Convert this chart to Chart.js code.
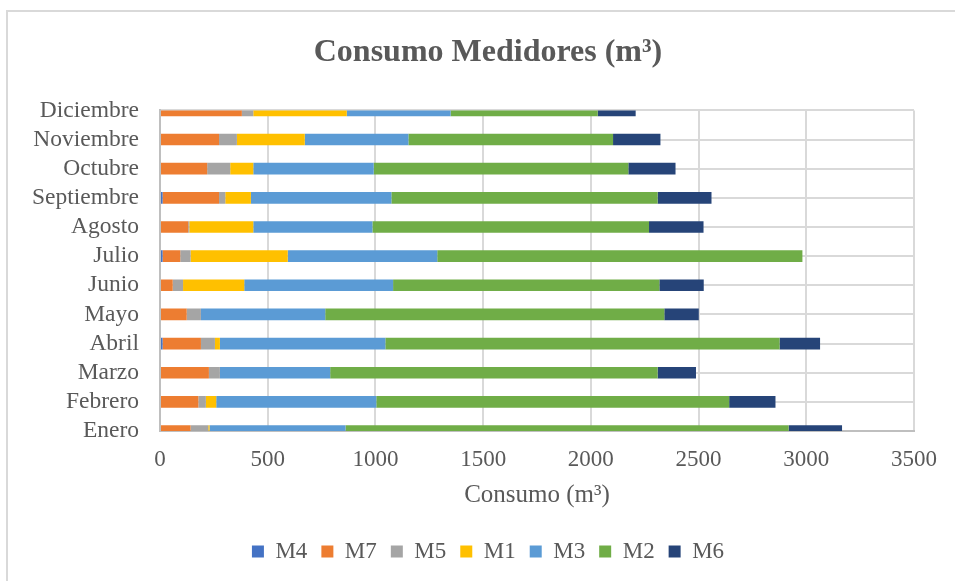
<!DOCTYPE html>
<html>
<head>
<meta charset="utf-8">
<script src="https://cdn.jsdelivr.net/npm/chart.js@4.4.1/dist/chart.umd.min.js"></script>
<style>
  html, body { margin: 0; padding: 0; background: #ffffff; }
  #wrap { width: 955px; height: 581px; position: relative; }
</style>
</head>
<body>
<div id="wrap"><canvas id="grafico" width="955" height="581"></canvas></div>
<script>
// Meses (de abajo hacia arriba en el eje vertical)
const meses = ['Enero', 'Febrero', 'Marzo', 'Abril', 'Mayo', 'Junio',
               'Julio', 'Agosto', 'Septiembre', 'Octubre', 'Noviembre', 'Diciembre'];

// Consumo mensual por medidor (m³)
const M4 = [0, 0, 0, 12, 0, 0, 12, 0, 12, 0, 0, 0];
const M7 = [142, 178, 227, 178, 124, 59, 82, 131, 262, 219, 274, 380];
const M5 = [82, 35, 51, 65, 66, 48, 48, 5, 29, 107, 83, 53];
const M1 = [6, 48, 0, 23, 0, 284, 451, 297, 119, 107, 315, 434];
const M3 = [631, 743, 512, 768, 577, 691, 694, 553, 652, 559, 481, 482];
const M2 = [2057, 1638, 1520, 1830, 1574, 1236, 1695, 1284, 1236, 1182, 950, 683];
const M6 = [248, 215, 178, 188, 160, 206, 0, 253, 250, 219, 220, 176];

// Marcas del eje de consumo
const ticksConsumo = [0, 500, 1000, 1500, 2000, 2500, 3000, 3500];

const series = [
  { label: 'M4', data: M4, color: '#4472C4' },
  { label: 'M7', data: M7, color: '#ED7D31' },
  { label: 'M5', data: M5, color: '#A5A5A5' },
  { label: 'M1', data: M1, color: '#FFC000' },
  { label: 'M3', data: M3, color: '#5B9BD5' },
  { label: 'M2', data: M2, color: '#70AD47' },
  { label: 'M6', data: M6, color: '#264478' }
];

const serif = "'Liberation Serif', 'Times New Roman', serif";
const gris = '#595959';
const rejilla = '#d9d9d9';

// Fondo blanco, marco exterior y zona libre para los nombres de los meses
const marco = {
  id: 'marco',
  afterLayout(chart) {
    // los nombres largos de los meses pueden ocupar el margen izquierdo
    chart.scales.y.left = 0;
  },
  beforeDraw(chart) {
    const ctx = chart.ctx;
    ctx.save();
    ctx.fillStyle = '#ffffff';
    ctx.fillRect(0, 0, chart.width, chart.height);
    ctx.strokeStyle = rejilla;
    ctx.lineWidth = 2;
    ctx.beginPath();
    ctx.moveTo(7, chart.height + 5);
    ctx.lineTo(7, 11);
    ctx.lineTo(chart.width + 5, 11);
    ctx.stroke();
    ctx.restore();
  }
};

new Chart(document.getElementById('grafico'), {
  type: 'bar',
  data: {
    labels: meses,
    datasets: series.map(s => ({
      label: s.label,
      data: s.data,
      backgroundColor: s.color,
      borderWidth: 0,
      categoryPercentage: 0.4,
      barPercentage: 1.0,
      clip: 0
    }))
  },
  options: {
    indexAxis: 'y',
    responsive: false,
    animation: false,
    devicePixelRatio: 1,
    layout: { padding: { top: 0, left: 62, right: 41, bottom: 8 } },
    plugins: {
      title: {
        display: true,
        text: 'Consumo Medidores (m³)',
        color: gris,
        font: { family: serif, size: 32, weight: 'bold' },
        padding: { top: 34, bottom: 38 }
      },
      legend: {
        position: 'bottom',
        labels: {
          color: gris,
          font: { family: serif, size: 23 },
          boxWidth: 12,
          boxHeight: 12,
          padding: 14
        }
      },
      tooltip: { enabled: false }
    },
    scales: {
      x: {
        stacked: true,
        min: 0,
        max: 3500,
        afterBuildTicks(scale) {
          scale.ticks = ticksConsumo.map(v => ({ value: v }));
        },
        afterFit(scale) { scale.height = 95; },
        grid: { color: rejilla, lineWidth: 2, drawTicks: false },
        border: { color: '#bfbfbf', width: 2 },
        ticks: {
          color: gris,
          font: { family: serif, size: 23 },
          padding: 15,
          callback: v => String(v)
        },
        title: {
          display: true,
          text: 'Consumo (m³)',
          color: gris,
          font: { family: serif, size: 25 },
          padding: { top: 0, bottom: 16 }
        }
      },
      y: {
        stacked: true,
        reverse: true,
        offset: false,
        afterFit(scale) { scale.width = 98; },
        grid: { color: rejilla, lineWidth: 2, drawTicks: false, offset: false },
        border: { color: '#bfbfbf', width: 2 },
        ticks: {
          color: gris,
          font: { family: serif, size: 23.5 },
          padding: 21,
          autoSkip: false
        }
      }
    }
  },
  plugins: [marco]
});
</script>
</body>
</html>
